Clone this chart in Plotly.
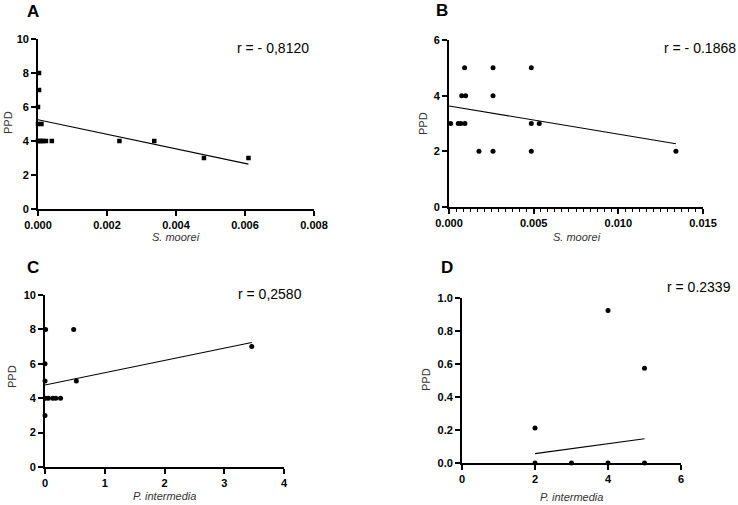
import plotly.graph_objects as go

W, H = 738, 505

# ---------------- data ----------------
a_x = [0.00003, 0.00003, 0.0, 0.0, 0.0001, 0.0, 0.00005, 0.0001, 0.00015, 0.00023, 0.0004,
       0.00236, 0.00337, 0.00481, 0.0061]
a_y = [8, 7, 6, 5, 5, 4, 4, 4, 4, 4, 4, 4, 4, 3, 3]
a_fit_x = [0.0, 0.0061]
a_fit_y = [5.25, 2.64]

b_x = [0.0001, 0.00055, 0.0007, 0.00094, 0.00075, 0.00098, 0.00092, 0.00177, 0.0026,
       0.0026, 0.0026, 0.00486, 0.00486, 0.00486, 0.00533, 0.0134]
b_y = [3, 3, 3, 3, 4, 4, 5, 2, 2, 4, 5, 2, 3, 5, 3, 2]
b_fit_x = [0.0, 0.0134]
b_fit_y = [3.63, 2.27]

c_x = [0.01, 0.48, 0.0, 0.0, 0.525, 0.01, 0.056, 0.13, 0.18, 0.26, 0.0, 3.46]
c_y = [8, 8, 6, 5, 5, 4, 4, 4, 4, 4, 3, 7]
c_fit_x = [0.0, 3.46]
c_fit_y = [4.77, 7.24]

d_x = [2, 4, 5, 2, 3, 4, 5]
d_y = [0.212, 0.925, 0.574, 0.0, 0.0, 0.0, 0.0]
d_fit_x = [2, 5]
d_fit_y = [0.057, 0.147]

panel_letters = ["A", "B", "C", "D"]
r_texts = ["r = - 0,8120", "r = - 0.1868", "r = 0,2580", "r = 0.2339"]
x_titles = ["S. moorei", "S. moorei", "P. intermedia", "P. intermedia"]
y_title = "PPD"

# ---------------- layout helpers ----------------
def px(x):
    return x / W

def py(y):
    return 1 - y / H

# plot areas in pixels: (left, right, top, bottom)
areas = [(38, 314, 39, 209), (449, 703, 40, 207), (45, 284, 295, 467), (462, 681, 298, 463)]

fig = go.Figure()

datasets = [
    (a_x, a_y, a_fit_x, a_fit_y, "square"),
    (b_x, b_y, b_fit_x, b_fit_y, "circle"),
    (c_x, c_y, c_fit_x, c_fit_y, "circle"),
    (d_x, d_y, d_fit_x, d_fit_y, "circle"),
]

for i, (xs, ys, fx, fy, sym) in enumerate(datasets):
    n = "" if i == 0 else str(i + 1)
    fig.add_trace(go.Scatter(x=fx, y=fy, mode="lines", line=dict(color="black", width=1.1),
                             xaxis="x" + n, yaxis="y" + n, showlegend=False, cliponaxis=False))
    fig.add_trace(go.Scatter(x=xs, y=ys, mode="markers",
                             marker=dict(color="black", size=5 if sym == "circle" else 4.5, symbol=sym),
                             xaxis="x" + n, yaxis="y" + n, showlegend=False, cliponaxis=False))

tickfont = dict(family="Liberation Sans, Arial, sans-serif", size=11, color="black", weight="bold")
axis_common = dict(showline=True, linecolor="black", linewidth=1.8, ticks="outside", ticklen=5,
                   tickwidth=1.5, tickcolor="black", showgrid=False, zeroline=False,
                   tickfont=tickfont, fixedrange=True, automargin=False)

x_specs = [
    dict(range=[0, 0.008], dtick=0.002, tick0=0, tickformat=".3f"),
    dict(range=[0, 0.015], dtick=0.005, tick0=0, tickformat=".3f",
         minor=dict(dtick=0.005 / 12, tick0=0, ticks="outside", ticklen=3, tickwidth=1.2, tickcolor="black")),
    dict(range=[0, 4], dtick=1, tick0=0),
    dict(range=[0, 6], dtick=2, tick0=0),
]
y_specs = [
    dict(range=[0, 10], dtick=2, tick0=0),
    dict(range=[0, 6], dtick=2, tick0=0),
    dict(range=[0, 10], dtick=2, tick0=0),
    dict(range=[0, 1.0], dtick=0.2, tick0=0, tickformat=".1f"),
]

layout = dict(width=W, height=H, margin=dict(l=0, r=0, t=0, b=0),
              paper_bgcolor="white", plot_bgcolor="white", showlegend=False)

for i, (l, r, t, b) in enumerate(areas):
    n = "" if i == 0 else str(i + 1)
    xa = dict(axis_common, domain=[px(l), px(r)], anchor="y" + n, **x_specs[i])
    ya = dict(axis_common, domain=[py(b), py(t)], anchor="x" + n, **y_specs[i])
    layout["xaxis" + n] = xa
    layout["yaxis" + n] = ya

fig.update_layout(**layout)

# annotations: panel letters, r values, axis titles
letter_pos = [(33, 11), (442, 10), (33, 267), (447, 267)]
r_pos = [(273, 48), (700, 48), (270, 294), (699, 287)]
xt_pos = [(176, 237), (577, 237), (164, 496), (571, 497)]
yt_pos = [(8, 123), (423, 123), (12, 377), (426, 380)]

for i in range(4):
    fig.add_annotation(x=px(letter_pos[i][0]), y=py(letter_pos[i][1]), xref="paper", yref="paper",
                       text="<b>%s</b>" % panel_letters[i], showarrow=False,
                       font=dict(family="Liberation Sans, Arial, sans-serif", size=17, color="black"),
                       xanchor="center", yanchor="middle")
    fig.add_annotation(x=px(r_pos[i][0]), y=py(r_pos[i][1]), xref="paper", yref="paper",
                       text=r_texts[i], showarrow=False,
                       font=dict(family="Liberation Sans, Arial, sans-serif", size=14, color="black"),
                       xanchor="center", yanchor="middle")
    fig.add_annotation(x=px(xt_pos[i][0]), y=py(xt_pos[i][1]), xref="paper", yref="paper",
                       text="<i>%s</i>" % x_titles[i], showarrow=False,
                       font=dict(family="Liberation Sans, Arial, sans-serif", size=11, color="#333333"),
                       xanchor="center", yanchor="middle")
    fig.add_annotation(x=px(yt_pos[i][0]), y=py(yt_pos[i][1]), xref="paper", yref="paper",
                       text=y_title, showarrow=False, textangle=-90,
                       font=dict(family="Liberation Sans, Arial, sans-serif", size=11, color="#333333"),
                       xanchor="center", yanchor="middle")

fig.write_html("out.html", config={"displayModeBar": False},
               post_script="document.body.style.margin='0';document.body.style.overflow='hidden';")
